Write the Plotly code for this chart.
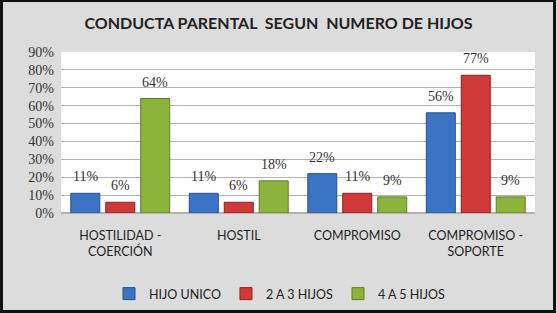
import plotly.graph_objects as go

categories = ["HOSTILIDAD -<br>COERCIÓN", "HOSTIL", "COMPROMISO", "COMPROMISO -<br>SOPORTE"]
series_names = ["HIJO UNICO", "2 A 3 HIJOS", "4 A 5 HIJOS"]
hijo_unico = [0.11, 0.11, 0.22, 0.56]
dos_a_tres = [0.06, 0.06, 0.11, 0.77]
cuatro_a_cinco = [0.64, 0.18, 0.09, 0.09]
y_ticks = [0, 0.1, 0.2, 0.3, 0.4, 0.5, 0.6, 0.7, 0.8, 0.9]

colors = ["#3b74c2", "#cf3a38", "#8cb43c"]
edge = ["#24508f", "#8f2020", "#5e7d25"]
series = [hijo_unico, dos_a_tres, cuatro_a_cinco]

fig = go.Figure()
for name, vals, c, e in zip(series_names, series, colors, edge):
    fig.add_trace(go.Bar(
        x=categories, y=vals, name=name,
        marker=dict(color=c, line=dict(color=e, width=1)),
    ))

# value labels
slot = 35
for i, vals in enumerate(series):
    for cat, v in zip(categories, vals):
        fig.add_annotation(
            x=cat, y=v, xref="x", yref="y", text=f"{round(v*100)}%",
            showarrow=False, yanchor="bottom", xshift=(i - 1) * slot, yshift=7,
            font=dict(family="Liberation Serif", size=14, color="#333333"),
        )

W, H = 557, 313
ml, mr, mt, mb = 61, 22, 52, 100
pw, ph = W - ml - mr, H - mt - mb

def px_to_paper_x(px):
    return (px - ml) / pw

def py_to_paper_y(py):
    return (H - mb - py) / ph

fig.add_shape(type="rect", xref="paper", yref="paper",
              x0=px_to_paper_x(1.5), x1=px_to_paper_x(554.5),
              y0=py_to_paper_y(311.5), y1=py_to_paper_y(0.5),
              line=dict(color="#111111", width=3), layer="above")

fig.update_layout(
    width=W, height=H,
    margin=dict(l=ml, r=mr, t=mt, b=mb, autoexpand=False),
    paper_bgcolor="#dcdcdc",
    plot_bgcolor="#ffffff",
    bargap=0.115, bargroupgap=0.17,
    title=dict(text="<b>CONDUCTA PARENTAL  SEGUN  NUMERO DE HIJOS</b>",
               x=0.5, xanchor="center", y=1 - 23 / H, yanchor="middle",
               font=dict(family="Lato", size=16, color="#222222")),
    showlegend=True,
    legend=dict(orientation="h", x=px_to_paper_x(280), xanchor="center", y=py_to_paper_y(294), yanchor="middle",
                font=dict(family="Lato", size=12.5, color="#222222"),
                bgcolor="rgba(0,0,0,0)", itemwidth=30, traceorder="normal"),
    xaxis=dict(showgrid=False, showline=False, ticks="", ticklabelstandoff=13,
               automargin=False,
               tickfont=dict(family="Lato", size=12.5, color="#1e1e1e")),
    yaxis=dict(range=[0, 0.9], tickvals=y_ticks, tickformat=".0%",
               showgrid=True, gridcolor="#b3b3b3", gridwidth=1,
               zeroline=True, zerolinecolor="#b3b3b3", showline=False,
               ticklabelstandoff=6, automargin=False,
               tickfont=dict(family="Liberation Serif", size=14, color="#333333")),
    font=dict(family="Lato"),
)

fig.write_html("out.html")
